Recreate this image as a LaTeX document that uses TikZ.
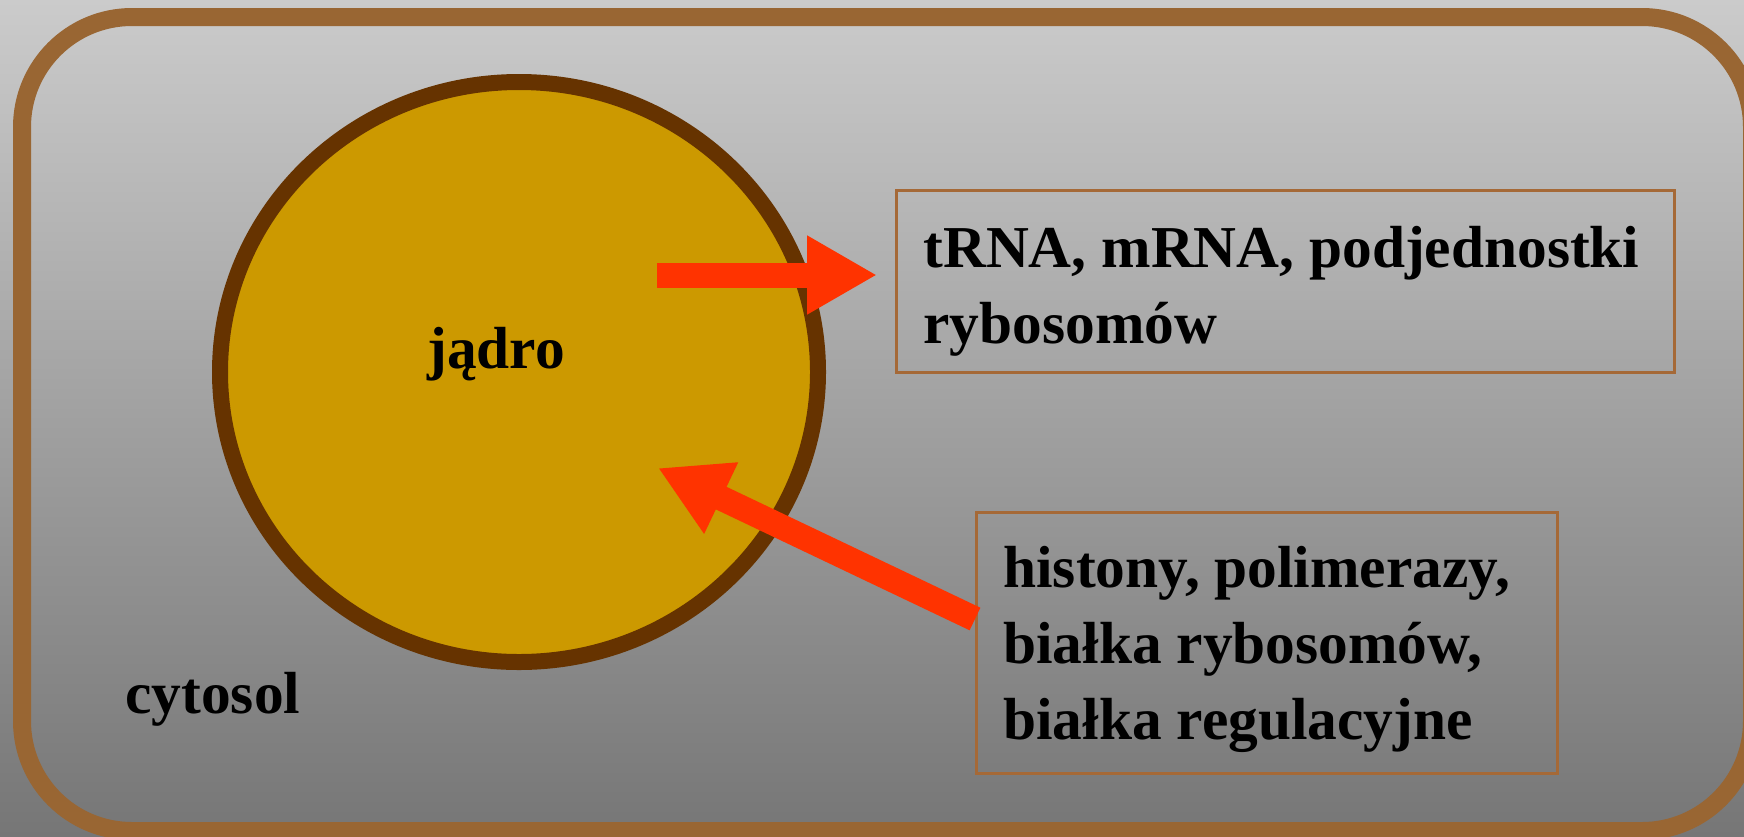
\documentclass[tikz,border=0pt]{standalone}
\usepackage{fontspec}
\setmainfont{Liberation Serif}
\usetikzlibrary{arrows.meta, shapes.geometric}
\definecolor{bgtop}{RGB}{203,203,203}
\definecolor{bgbot}{RGB}{118,118,118}
\definecolor{cellbrown}{RGB}{153,102,51}
\definecolor{boxbrown}{RGB}{165,105,55}
\definecolor{nucfill}{RGB}{204,153,0}
\definecolor{nucedge}{RGB}{102,51,0}
\definecolor{arrowred}{RGB}{255,51,0}
\begin{document}
\begin{tikzpicture}[x=0.5pt, y=-0.5pt,
    lbl/.style={inner sep=0pt, anchor=base west, align=left, font=\fontsize{29.7}{38}\selectfont\bfseries},
    frame/.style={draw=boxbrown, line width=1.5pt, inner sep=0pt, anchor=north west},
    blockarrow/.style={draw=arrowred, line width=12.5pt, -{Triangle[length=35pt, width=37pt]}}]
      \useasboundingbox (0,0) rectangle (1744,836);
      % cell
      \shade[top color=bgtop, bottom color=bgbot] (0,0) rectangle (1744,836);
      \draw[cellbrown, line width=9pt, rounded corners=55pt] (22,17) rectangle (1752,831);
      \node (cyto) [lbl] at (125,713) {cytosol};
      % nucleus
      \node (jadro) [ellipse, fill=nucfill, draw=nucedge, line width=8pt, minimum width=299pt, minimum height=290pt] at (519,372) {};
      \node (jadrotxt) [lbl] at (427,368) {jądro};
      % export / import (base = last line)
      \node (rnabox) [frame, minimum width=389pt, minimum height=91pt] at (895,189) {};
      \node (rnatxt) [lbl] at (923,343) {tRNA, mRNA, podjednostki\\rybosomów};
      \node (protbox) [frame, minimum width=290.5pt, minimum height=130.5pt] at (975,511) {};
      \node (prottxt) [lbl] at (1003,739) {histony, polimerazy,\\białka rybosomów,\\białka regulacyjne};
      \coordinate (outA) at (657,275);
      \coordinate (inA) at (658,468);
      \draw[blockarrow, shorten >=9pt] (outA) -- (outA -| rnabox.west);
      \draw[blockarrow] ([yshift=12pt]protbox.west) -- (inA);
    \end{tikzpicture}
\end{document}
